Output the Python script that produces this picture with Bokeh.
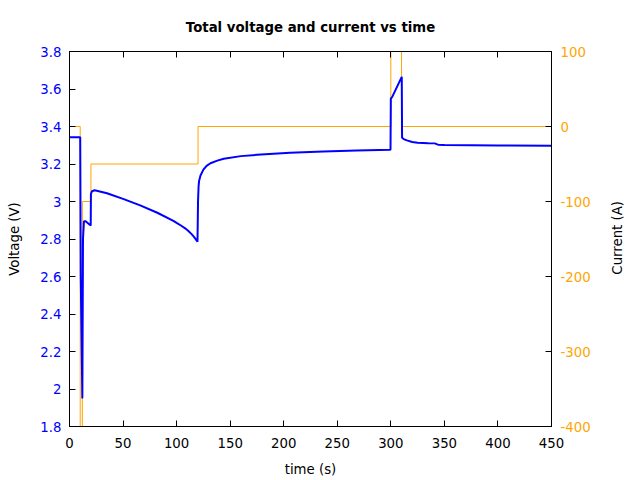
import math
from bokeh.plotting import figure
from bokeh.layouts import row
from bokeh.models import Range1d, LinearAxis, FixedTicker, CustomLabelingPolicy
from bokeh.core.properties import value
from bokeh.embed import file_html
from bokeh.resources import INLINE

# ---- data ----
time_v = [0, 10, 10.5, 12, 12.6, 13.5, 15, 19.8, 20, 21, 23.5, 35, 50, 66, 82,
          97, 100, 104, 108, 111, 114, 116, 118, 119.5, 120, 120.5, 121, 122.3,
          125, 128, 131.6, 138, 144, 160, 175, 206, 237, 268, 299.7, 300, 301.3,
          310.2, 310.5, 312, 315, 320, 325, 335, 341, 344, 350, 400, 450]
voltage = [3.343, 3.343, 2.6, 1.95, 2.8, 2.895, 2.895, 2.872, 3.04, 3.055,
           3.06, 3.044, 3.014, 2.979, 2.94, 2.897, 2.886, 2.872, 2.857, 2.843,
           2.826, 2.813, 2.798, 2.785, 3.0, 3.08, 3.11, 3.139, 3.17, 3.19, 3.204,
           3.218, 3.228, 3.242, 3.249, 3.26, 3.267, 3.272, 3.276, 3.549, 3.558,
           3.665, 3.34, 3.333, 3.326, 3.317, 3.313, 3.311, 3.31, 3.303, 3.301,
           3.299, 3.298]

time_i = [0, 10, 10, 12, 12, 20, 20, 120, 120, 300, 300, 310, 310, 450]
current = [0, 0, -500, -500, -100, -100, -50, -50, 0, 0, 200, 200, 0, 0]

x_ticks = [0, 50, 100, 150, 200, 250, 300, 350, 400, 450]
v_ticks = [1.8, 2.0, 2.2, 2.4, 2.6, 2.8, 3.0, 3.2, 3.4, 3.6, 3.8]
v_tick_labels = ["1.8", "2", "2.2", "2.4", "2.6", "2.8", "3", "3.2", "3.4", "3.6", "3.8"]
i_ticks = [-400, -300, -200, -100, 0, 100]
i_tick_labels = ["-400", "-300", "-200", "-100", "0", "100"]
right_title = "Current (A)"

BLUE = "#0000ff"
ORANGE = "#ffa500"
FONT = "DejaVu Sans"
FS = "13.3px"

p = figure(width=600, height=480, x_range=Range1d(0, 450), y_range=Range1d(1.8, 3.8),
           output_backend="svg", toolbar_location=None,
           title="Total voltage and current vs time",
           min_border_left=69, min_border_right=49, min_border_top=51, min_border_bottom=54,
           x_axis_type=None, y_axis_type=None)
p.extra_y_ranges = {"cur": Range1d(-400, 100)}
p.xgrid.visible = False
p.ygrid.visible = False
p.outline_line_color = "black"
p.outline_line_width = 1
p.background_fill_color = "white"
p.border_fill_color = "white"

p.title.text_font = FONT
p.title.text_font_size = FS
p.title.text_font_style = "bold"
p.title.text_color = "black"
p.title.align = "center"
p.title.standoff = 33


def style_axis(ax, label_color):
    ax.major_tick_in = 6
    ax.major_tick_out = 0
    ax.minor_tick_in = 0
    ax.minor_tick_out = 0
    ax.major_tick_line_color = "black"
    ax.axis_line_color = "black"
    ax.major_label_text_font = FONT
    ax.major_label_text_font_size = FS
    ax.major_label_text_color = label_color
    ax.axis_label_text_font = FONT
    ax.axis_label_text_font_size = FS
    ax.axis_label_text_font_style = "normal"
    ax.axis_label_text_color = "black"


xb = LinearAxis(ticker=FixedTicker(ticks=x_ticks), axis_label="time (s)")
style_axis(xb, "black")
xb.major_label_standoff = 11
xb.axis_label_standoff = 11
p.add_layout(xb, "below")

# mirrored ticks on top, without labels
xt = LinearAxis(ticker=FixedTicker(ticks=x_ticks))
style_axis(xt, "black")
xt.major_label_text_font_size = "0px"
xt.major_label_standoff = 0
xt.major_label_policy = CustomLabelingPolicy(code="""
try { for (let i = 0; i < indices.size; i++) indices.unset(i); } catch (e) {}
return indices
""")
p.add_layout(xt, "above")

yl = LinearAxis(ticker=FixedTicker(ticks=v_ticks), axis_label="Voltage (V)")
style_axis(yl, BLUE)
yl.major_label_overrides = {v: s for v, s in zip(v_ticks, v_tick_labels)}
yl.major_label_standoff = 8
yl.axis_label_standoff = 15
p.add_layout(yl, "left")

yr = LinearAxis(y_range_name="cur", ticker=FixedTicker(ticks=i_ticks))
style_axis(yr, ORANGE)
yr.major_label_overrides = {v: s for v, s in zip(i_ticks, i_tick_labels)}
yr.major_label_standoff = 9
p.add_layout(yr, "right")

p.line(time_i, current, y_range_name="cur", line_color=ORANGE, line_width=1)
p.line(time_v, voltage, line_color=BLUE, line_width=2)

# narrow strip on the right holding the right-axis title, reading bottom-to-top
p2 = figure(width=40, height=480, x_range=Range1d(0, 40), y_range=Range1d(0, 480),
            output_backend="svg", toolbar_location=None,
            min_border=0, x_axis_type=None, y_axis_type=None)
p2.xgrid.visible = False
p2.ygrid.visible = False
p2.outline_line_color = None
p2.background_fill_color = "white"
p2.border_fill_color = "white"
p2.text(x=[17], y=[241.5], text=[right_title], angle=math.pi / 2,
        text_align="center", text_baseline="middle",
        text_font=value(FONT), text_font_size=FS, text_color="black")

layout = row(p, p2, spacing=0)
open("out.html", "w").write(file_html(layout, INLINE))
